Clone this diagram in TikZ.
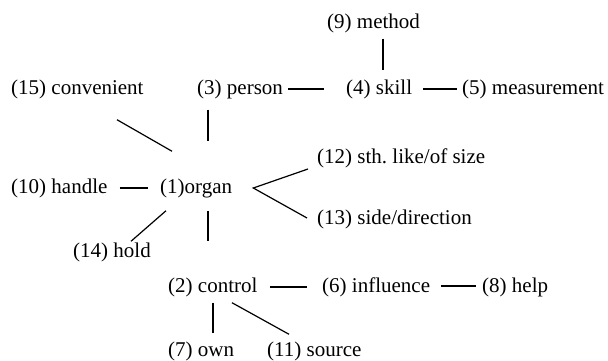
\documentclass[tikz,border=0pt]{standalone}
\usepackage{fontspec}
\setmainfont{Liberation Serif}
\begin{document}
\frenchspacing
\begin{tikzpicture}[x=1pt,y=-1pt,
  lbl/.style={anchor=west,inner sep=0pt,font=\fontsize{21}{25}\selectfont},
  link/.style={draw=black,line width=1.2pt}]
\useasboundingbox (0,0) rectangle (608,361);
% nodes
\node[lbl] (n9)  at (327,23)  {(9) method};
\node[lbl] (n15) at (11,89)   {(15) convenient};
\node[lbl] (n3)  at (197,89)  {(3) person};
\node[lbl] (n4)  at (346,89)  {(4) skill};
\node[lbl] (n5)  at (462,89)  {(5) measurement};
\node[lbl] (n12) at (317,158) {(12) sth.\ like/of size};
\node[lbl] (n10) at (11,188)  {(10) handle};
\node[lbl] (n1)  at (160,188) {(1)organ};
\node[lbl] (n13) at (317,219) {(13) side/direction};
\node[lbl] (n14) at (73,252)  {(14) hold};
\node[lbl] (n2)  at (168,287) {(2) control};
\node[lbl] (n6)  at (322,287) {(6) influence};
\node[lbl] (n8)  at (482,287) {(8) help};
\node[lbl] (n7)  at (168,351) {(7) own};
\node[lbl] (n11) at (267,351) {(11) source};
% connectors
\draw[link] ([xshift=56pt,yshift=-6pt]n9.south west) -- ([xshift=37pt,yshift=9pt]n4.north west);
\draw[link] ([xshift=5pt]n3.east) -- ([xshift=-22pt]n4.west);
\draw[link] ([xshift=11pt]n4.east) -- ([xshift=-5pt]n5.west);
\draw[link] ([xshift=106pt,yshift=-21pt]n15.south west) -- ([xshift=12pt,yshift=27pt]n1.north west);
\draw[link] ([xshift=11pt,yshift=-11pt]n3.south west) -- ([xshift=48pt,yshift=37pt]n1.north west);
\draw[link] ([xshift=12pt]n10.east) -- ([xshift=-12pt]n1.west);
\draw[link] ([xshift=-9pt,yshift=-11pt]n12.west) -- ([xshift=21pt]n1.east) -- ([xshift=-10pt,yshift=1pt]n13.west);
\draw[link] ([xshift=58pt,yshift=1pt]n14.north west) -- ([xshift=6pt,yshift=-13pt]n1.south west);
\draw[link] ([xshift=48pt,yshift=-13pt]n1.south west) -- ([xshift=40pt,yshift=36pt]n2.north west);
\draw[link] ([xshift=12pt]n2.east) -- ([xshift=-15pt]n6.west);
\draw[link] ([xshift=11pt,yshift=1pt]n6.east) -- ([xshift=-6pt,yshift=1pt]n8.west);
\draw[link] ([xshift=45pt,yshift=-6pt]n2.south west) -- ([xshift=45pt,yshift=8pt]n7.north west);
\draw[link] ([xshift=64pt,yshift=-6pt]n2.south west) -- ([xshift=22pt,yshift=7pt]n11.north west);
\end{tikzpicture}
\end{document}
